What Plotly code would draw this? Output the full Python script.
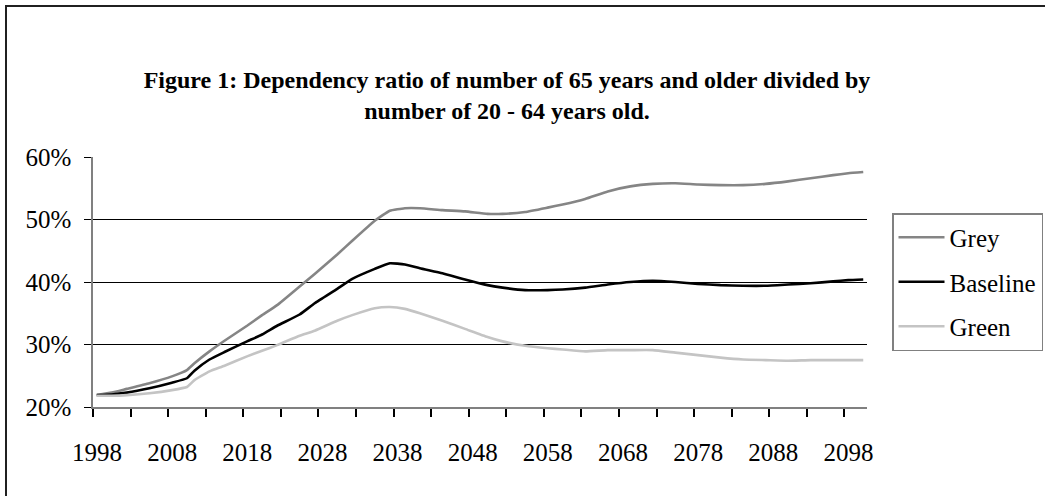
import plotly.graph_objects as go

# Dependency ratio (65+ / 20-64), percent, by scenario
years = [1998, 2000, 2002, 2005, 2008, 2010, 2011, 2013, 2015, 2018, 2020, 2022,
         2025, 2027, 2030, 2032, 2035, 2037, 2039, 2041, 2044, 2047, 2050, 2052,
         2055, 2058, 2060, 2063, 2066, 2069, 2072, 2075, 2078, 2081, 2084, 2087,
         2090, 2093, 2096, 2098, 2100]

grey = [21.9, 22.3, 22.9, 23.8, 24.9, 25.9, 27.0, 28.9, 30.6, 33.0, 34.7, 36.3,
        39.3, 41.3, 44.4, 46.6, 49.8, 51.4, 51.8, 51.8, 51.5, 51.3, 50.9, 50.9,
        51.2, 51.9, 52.4, 53.3, 54.5, 55.3, 55.7, 55.8, 55.6, 55.5, 55.5, 55.7,
        56.1, 56.6, 57.1, 57.4, 57.6]

baseline = [21.9, 22.0, 22.3, 23.0, 23.9, 24.6, 25.8, 27.6, 28.8, 30.5, 31.6, 33.0,
            34.8, 36.6, 38.9, 40.5, 42.1, 43.0, 42.8, 42.2, 41.4, 40.4, 39.5, 39.1,
            38.7, 38.7, 38.8, 39.1, 39.6, 40.0, 40.2, 40.0, 39.7, 39.5, 39.4, 39.4,
            39.6, 39.8, 40.1, 40.3, 40.4]

green = [21.8, 21.8, 21.9, 22.2, 22.7, 23.2, 24.3, 25.7, 26.6, 28.1, 29.0, 29.9,
         31.4, 32.2, 33.8, 34.7, 35.8, 36.0, 35.7, 35.0, 33.8, 32.5, 31.2, 30.5,
         29.8, 29.4, 29.2, 28.9, 29.1, 29.1, 29.1, 28.7, 28.3, 27.9, 27.6, 27.5,
         27.4, 27.5, 27.5, 27.5, 27.5]

series = [("Grey", grey, "#858585"), ("Baseline", baseline, "#000000"),
          ("Green", green, "#c4c4c4")]

x_labels = list(range(1998, 2099, 10))
y_ticks = [20, 30, 40, 50, 60]
y_text = [f"{v}%" for v in y_ticks]

# Yearly categories: tick marks sit between years every five years,
# labels every ten years, shifted half a year to the category centre.
x_tick_marks = [1997.5 + 5 * k for k in range(21)]
x_tick_text = [str(int(t + 0.5)) if int(t + 0.5) in x_labels else ""
               for t in x_tick_marks]

FONT = "Liberation Serif, Times New Roman, serif"
X_RANGE = [1997.5, 2100.5]

fig = go.Figure()
for name, vals, color in series:
    fig.add_trace(go.Scatter(
        x=years, y=vals, name=name, mode="lines", legendgroup=name,
        line=dict(color=color, width=2.6, shape="spline", smoothing=0.4),
    ))

W, H = 1045, 496
L, R, T, B = 93, 178, 157, 89
pw, ph = W - L - R, H - T - B
half_year_px = round(pw / (X_RANGE[1] - X_RANGE[0]) * 0.5)

def px_x(p):
    return (p - L) / pw

def px_y(p):
    return (H - B - p) / ph

fig.update_layout(
    width=W, height=H,
    margin=dict(l=L, r=R, t=T, b=B, autoexpand=False),
    paper_bgcolor="white", plot_bgcolor="white",
    font=dict(family=FONT, color="black", size=25),
    title=dict(
        text="<b>Figure 1: Dependency ratio of number of 65 years and older divided by<br>"
             "number of 20 - 64 years old.</b>",
        x=507 / W, y=1 - 88 / H, xref="container", yref="container",
        xanchor="center", yanchor="middle",
        font=dict(family=FONT, size=24, color="black"),
    ),
    showlegend=True,
    legend=dict(
        x=px_x(892), y=px_y(213), xanchor="left", yanchor="top",
        bordercolor="#808080", borderwidth=1.5, bgcolor="white",
        font=dict(family=FONT, size=25, color="black"),
        tracegroupgap=9, itemwidth=46,
    ),
    xaxis=dict(
        range=X_RANGE, tickvals=x_tick_marks, ticktext=x_tick_text,
        ticks="outside", ticklen=8, tickwidth=1.5, tickcolor="black",
        showgrid=False, showline=True, linecolor="#808080", linewidth=1.5,
        ticklabelstandoff=14, ticklabelshift=half_year_px, zeroline=False,
    ),
    yaxis=dict(
        range=[20, 60], tickvals=y_ticks, ticktext=y_text, ticks="outside",
        ticklen=7, tickcolor="black", showgrid=True, gridcolor="black",
        gridwidth=1, showline=True, linecolor="#808080", linewidth=1.5,
        zeroline=False, ticklabelstandoff=8,
    ),
    shapes=[dict(
        type="rect", xref="paper", yref="paper",
        x0=px_x(6), x1=px_x(W + 20), y0=px_y(H + 20), y1=px_y(6),
        line=dict(color="#202020", width=2), fillcolor="rgba(0,0,0,0)",
        layer="above",
    )],
)

fig.write_html("out.html")
